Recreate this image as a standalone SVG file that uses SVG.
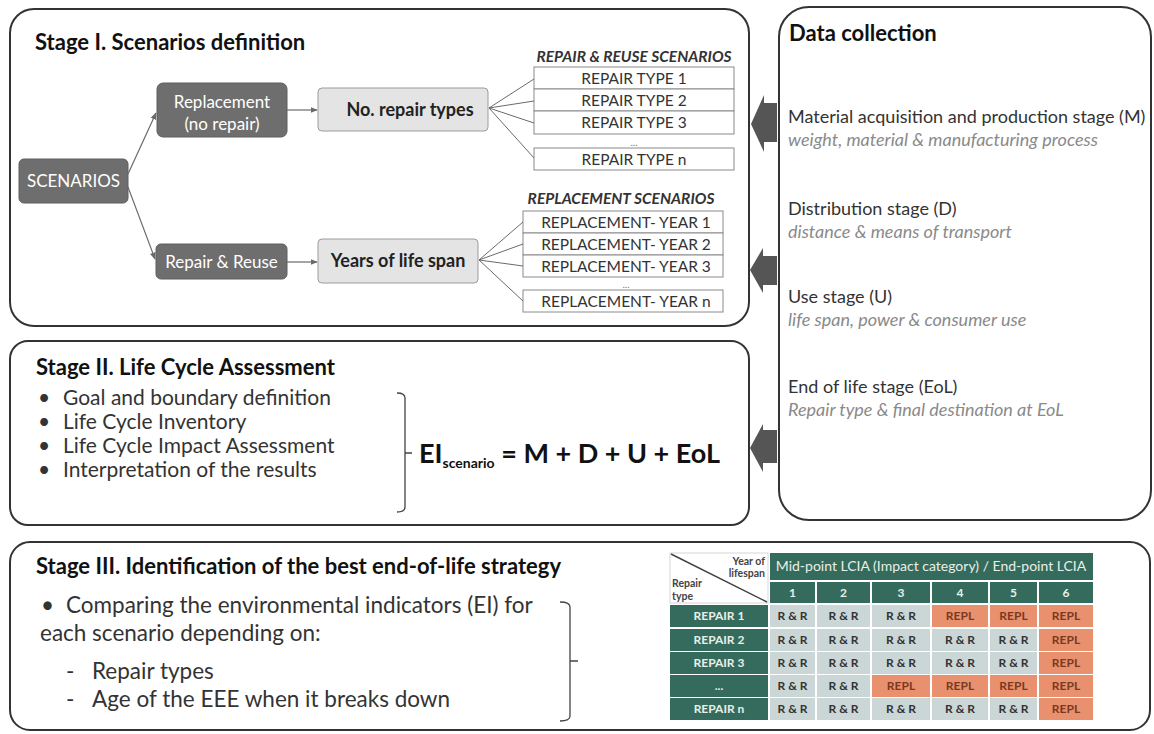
<svg xmlns="http://www.w3.org/2000/svg" width="1154" height="734" viewBox="0 0 1154 734">
<defs>
<style>
text{font-family:Lato,"Open Sans","Liberation Sans",sans-serif;}
.frame{fill:#fff;stroke:#333;stroke-width:2;}
.title{font-size:22px;font-weight:bold;fill:#111;}
.dark{fill:#6e6e6e;stroke:#5e5e5e;stroke-width:1;}
.light{fill:#e4e4e4;stroke:#9c9c9c;stroke-width:1;}
.wt{font-size:17px;fill:#fff;text-anchor:middle;}
.bt{font-size:18px;font-weight:bold;fill:#222;text-anchor:middle;}
.lst{fill:#fff;stroke:#8a8a8a;stroke-width:1;}
.lt{font-size:15.5px;fill:#333;text-anchor:middle;}
.dots{font-size:10px;fill:#777;text-anchor:middle;}
.hd{font-size:15.5px;font-weight:bold;font-style:italic;fill:#333;text-anchor:middle;}
.dc{font-size:18px;fill:#333;}
.dci{font-size:18px;font-style:italic;fill:#8a8a8a;}
.bul{font-size:21px;fill:#333;}
.bul3{font-size:22.5px;fill:#333;}
.con{stroke:#6a6a6a;stroke-width:1.2;fill:none;}
.fan{stroke:#6a6a6a;stroke-width:1;fill:none;}
.brk{stroke:#444;stroke-width:1.3;fill:none;}
.big{fill:#555;}
.g{fill:#356b5c;}
.rr{fill:#cbd6d6;}
.rp{fill:#e9906f;}
.gt{font-size:12px;font-weight:bold;fill:#e8efe9;text-anchor:middle;}
.ct{font-size:12px;font-weight:bold;fill:#333;text-anchor:middle;}
.cr{font-size:12px;font-weight:bold;fill:#7a3a20;text-anchor:middle;}
.corner{font-size:10.5px;font-weight:bold;fill:#444;}
</style>
<marker id="ah" viewBox="0 0 10 10" refX="9" refY="5" markerWidth="6" markerHeight="6" orient="auto">
<path d="M0,1 L10,5 L0,9 z" fill="#6a6a6a"/>
</marker>
</defs>
<rect width="1154" height="734" fill="#fff"/>

<g id="stage1">
<rect class="frame" x="10" y="9" width="739" height="317" rx="24"/>
<text class="title" x="35" y="50">Stage I. Scenarios definition</text>
</g>

<g id="scenarios">
<rect class="dark" x="19" y="159" width="109" height="44" rx="5"/>
<text class="wt" x="73.5" y="187" font-size="16.5">SCENARIOS</text>
</g>
<g id="replacement">
<rect class="dark" x="157" y="83" width="130" height="54" rx="6"/>
<text class="wt" x="222" y="108">Replacement</text>
<text class="wt" x="222" y="130">(no repair)</text>
</g>
<g id="repairreuse">
<rect class="dark" x="156" y="244" width="131" height="35" rx="5"/>
<text class="wt" x="221.5" y="267.5">Repair &amp; Reuse</text>
</g>
<g id="norepair">
<rect class="light" x="318" y="88" width="170" height="43" rx="4"/>
<text class="bt" x="410" y="116">No. repair types</text>
</g>
<g id="years">
<rect class="light" x="318" y="239" width="160" height="44" rx="4"/>
<text class="bt" x="398" y="267">Years of life span</text>
</g>

<g id="repairlist">
<text class="hd" x="634" y="62">REPAIR &amp; REUSE SCENARIOS</text>
<rect class="lst" x="534" y="67" width="200" height="22"/>
<rect class="lst" x="534" y="89" width="200" height="22"/>
<rect class="lst" x="534" y="111" width="200" height="23"/>
<rect class="lst" x="534" y="148" width="200" height="22"/>
<text class="lt" x="634" y="84">REPAIR TYPE  1</text>
<text class="lt" x="634" y="106">REPAIR TYPE  2</text>
<text class="lt" x="634" y="128">REPAIR TYPE  3</text>
<text class="dots" x="634" y="146">...</text>
<text class="lt" x="634" y="165">REPAIR TYPE  n</text>
</g>

<g id="replist">
<text class="hd" x="621" y="204">REPLACEMENT  SCENARIOS</text>
<rect class="lst" x="523" y="211" width="200" height="22"/>
<rect class="lst" x="523" y="233" width="200" height="22"/>
<rect class="lst" x="523" y="255" width="200" height="22"/>
<rect class="lst" x="523" y="290" width="200" height="22"/>
<text class="lt" x="626" y="228">REPLACEMENT-  YEAR 1</text>
<text class="lt" x="626" y="250">REPLACEMENT-  YEAR 2</text>
<text class="lt" x="626" y="272">REPLACEMENT-  YEAR 3</text>
<text class="dots" x="626" y="288">...</text>
<text class="lt" x="626" y="307">REPLACEMENT-  YEAR n</text>
</g>

<g id="connectors">
<line class="con" x1="128" y1="174" x2="156" y2="113" marker-end="url(#ah)"/>
<line class="con" x1="128" y1="187" x2="155" y2="259" marker-end="url(#ah)"/>
<line class="con" x1="287" y1="110" x2="317" y2="110" marker-end="url(#ah)"/>
<line class="con" x1="287" y1="262" x2="317" y2="262" marker-end="url(#ah)"/>
<path class="fan" d="M489,108 L534,79 M489,108 L534,101 M489,108 L534,123 M489,108 L534,158"/>
<path class="fan" d="M479,260 L523,222 M479,260 L523,244 M479,260 L523,266 M479,260 L523,301"/>
<polygon class="big" points="751,124 764,95 764,103 777,103 777,142 764,142 764,152"/>
<polygon class="big" points="750,270 763,248 763,256 777,256 777,285 763,285 763,293"/>
<polygon class="big" points="750,448 763,424 763,430 777,430 777,463 763,463 763,472"/>
</g>

<g id="datacollection">
<rect class="frame" x="779" y="7" width="372" height="513" rx="30"/>
<text class="title" x="789" y="41">Data collection</text>
<text class="dc" x="788" y="123">Material acquisition and production stage (M)</text>
<text class="dci" x="788" y="146">weight, material &amp; manufacturing process</text>
<text class="dc" x="788" y="215">Distribution stage (D)</text>
<text class="dci" x="788" y="238">distance &amp; means of transport</text>
<text class="dc" x="788" y="303">Use stage (U)</text>
<text class="dci" x="788" y="326">life span, power &amp; consumer use</text>
<text class="dc" x="788" y="393">End of life stage (EoL)</text>
<text class="dci" x="788" y="416">Repair type &amp; final destination at EoL</text>
</g>

<g id="stage2">
<rect class="frame" x="10" y="341" width="739" height="184" rx="18"/>
<text class="title" x="36" y="375">Stage II. Life Cycle Assessment</text>
<text class="bul" x="38" y="405">•</text>
<text class="bul" x="63" y="405">Goal and boundary definition</text>
<text class="bul" x="38" y="429">•</text>
<text class="bul" x="63" y="429">Life Cycle Inventory</text>
<text class="bul" x="38" y="453">•</text>
<text class="bul" x="63" y="453">Life Cycle Impact Assessment</text>
<text class="bul" x="38" y="477">•</text>
<text class="bul" x="63" y="477">Interpretation of the results</text>
<path class="brk" d="M397,393 Q405,393 405,398 L405,507 Q405,512 397,512 M405,453 L412,453"/>
<text x="419" y="463" font-size="27" font-weight="bold" fill="#111">EI<tspan font-size="14" dy="5">scenario</tspan><tspan dy="-5"> = M + D + U + EoL</tspan></text>
</g>

<g id="stage3">
<rect class="frame" x="10" y="542" width="1140" height="188" rx="20"/>
<text class="title" x="36" y="574">Stage III. Identification of the best end-of-life strategy</text>
<text class="bul3" x="41" y="613">•</text>
<text class="bul3" x="66" y="613">Comparing the environmental indicators (EI) for</text>
<text class="bul3" x="40" y="641">each scenario depending on:</text>
<text class="bul3" x="66" y="679">-</text>
<text class="bul3" x="92" y="679">Repair types</text>
<text class="bul3" x="66" y="707">-</text>
<text class="bul3" x="92" y="707">Age of the EEE when it breaks down</text>
<path class="brk" d="M560,602 Q570,602 570,607 L570,716 Q570,721 560,721 M570,661 L578,661"/>
</g>

<g id="table">
<rect x="670" y="553" width="98" height="50" fill="#fff" stroke="#ccc" stroke-width="0.8"/>
<line x1="671" y1="554" x2="767" y2="602" stroke="#444" stroke-width="1.5"/>
<text class="corner" x="765" y="565" text-anchor="end">Year of</text>
<text class="corner" x="765" y="577" text-anchor="end">lifespan</text>
<text class="corner" x="672" y="587">Repair</text>
<text class="corner" x="672" y="600">type</text>
<rect class="g" x="770" y="553" width="323" height="27"/>
<text x="931" y="571" font-size="14" fill="#e8efe9" text-anchor="middle">Mid-point LCIA (Impact category) / End-point LCIA</text>
<rect class="g" x="770" y="582" width="45" height="21"/>
<rect class="g" x="817" y="582" width="53" height="21"/>
<rect class="g" x="872" y="582" width="58" height="21"/>
<rect class="g" x="932" y="582" width="56" height="21"/>
<rect class="g" x="990" y="582" width="47" height="21"/>
<rect class="g" x="1039" y="582" width="54" height="21"/>
<text class="gt" x="792.5" y="597">1</text>
<text class="gt" x="843.5" y="597">2</text>
<text class="gt" x="901" y="597">3</text>
<text class="gt" x="960" y="597">4</text>
<text class="gt" x="1013.5" y="597">5</text>
<text class="gt" x="1066" y="597">6</text>

<rect class="g" x="670" y="605" width="98" height="22"/>
<rect class="g" x="670" y="629" width="98" height="22"/>
<rect class="g" x="670" y="652" width="98" height="22"/>
<rect class="g" x="670" y="675" width="98" height="22"/>
<rect class="g" x="670" y="698" width="98" height="22"/>
<text class="gt" x="719" y="620">REPAIR 1</text>
<text class="gt" x="719" y="644">REPAIR 2</text>
<text class="gt" x="719" y="667">REPAIR 3</text>
<text class="gt" x="719" y="690">...</text>
<text class="gt" x="719" y="713">REPAIR  n</text>

<rect class="rr" x="770" y="605" width="45" height="22"/><rect class="rr" x="817" y="605" width="53" height="22"/><rect class="rr" x="872" y="605" width="58" height="22"/>
<rect class="rp" x="932" y="605" width="56" height="22"/><rect class="rp" x="990" y="605" width="47" height="22"/><rect class="rp" x="1039" y="605" width="54" height="22"/>
<rect class="rr" x="770" y="629" width="45" height="22"/><rect class="rr" x="817" y="629" width="53" height="22"/><rect class="rr" x="872" y="629" width="58" height="22"/>
<rect class="rr" x="932" y="629" width="56" height="22"/><rect class="rr" x="990" y="629" width="47" height="22"/><rect class="rp" x="1039" y="629" width="54" height="22"/>
<rect class="rr" x="770" y="652" width="45" height="22"/><rect class="rr" x="817" y="652" width="53" height="22"/><rect class="rr" x="872" y="652" width="58" height="22"/>
<rect class="rr" x="932" y="652" width="56" height="22"/><rect class="rr" x="990" y="652" width="47" height="22"/><rect class="rp" x="1039" y="652" width="54" height="22"/>
<rect class="rr" x="770" y="675" width="45" height="22"/><rect class="rr" x="817" y="675" width="53" height="22"/><rect class="rp" x="872" y="675" width="58" height="22"/>
<rect class="rp" x="932" y="675" width="56" height="22"/><rect class="rp" x="990" y="675" width="47" height="22"/><rect class="rp" x="1039" y="675" width="54" height="22"/>
<rect class="rr" x="770" y="698" width="45" height="22"/><rect class="rr" x="817" y="698" width="53" height="22"/><rect class="rr" x="872" y="698" width="58" height="22"/>
<rect class="rr" x="932" y="698" width="56" height="22"/><rect class="rr" x="990" y="698" width="47" height="22"/><rect class="rp" x="1039" y="698" width="54" height="22"/>

<text class="ct" x="792.5" y="620">R &amp; R</text><text class="ct" x="843.5" y="620">R &amp; R</text><text class="ct" x="901" y="620">R &amp; R</text>
<text class="cr" x="960" y="620">REPL</text><text class="cr" x="1013.5" y="620">REPL</text><text class="cr" x="1066" y="620">REPL</text>
<text class="ct" x="792.5" y="644">R &amp; R</text><text class="ct" x="843.5" y="644">R &amp; R</text><text class="ct" x="901" y="644">R &amp; R</text>
<text class="ct" x="960" y="644">R &amp; R</text><text class="ct" x="1013.5" y="644">R &amp; R</text><text class="cr" x="1066" y="644">REPL</text>
<text class="ct" x="792.5" y="667">R &amp; R</text><text class="ct" x="843.5" y="667">R &amp; R</text><text class="ct" x="901" y="667">R &amp; R</text>
<text class="ct" x="960" y="667">R &amp; R</text><text class="ct" x="1013.5" y="667">R &amp; R</text><text class="cr" x="1066" y="667">REPL</text>
<text class="ct" x="792.5" y="690">R &amp; R</text><text class="ct" x="843.5" y="690">R &amp; R</text><text class="cr" x="901" y="690">REPL</text>
<text class="cr" x="960" y="690">REPL</text><text class="cr" x="1013.5" y="690">REPL</text><text class="cr" x="1066" y="690">REPL</text>
<text class="ct" x="792.5" y="713">R &amp; R</text><text class="ct" x="843.5" y="713">R &amp; R</text><text class="ct" x="901" y="713">R &amp; R</text>
<text class="ct" x="960" y="713">R &amp; R</text><text class="ct" x="1013.5" y="713">R &amp; R</text><text class="cr" x="1066" y="713">REPL</text>
</g>
</svg>
